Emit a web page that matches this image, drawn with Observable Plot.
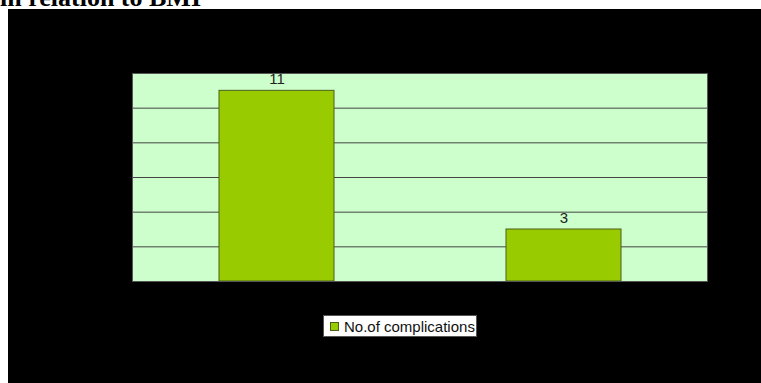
<!DOCTYPE html>
<html>
<head>
<meta charset="utf-8">
<script src="https://cdn.jsdelivr.net/npm/d3@7"></script>
<script src="https://cdn.jsdelivr.net/npm/@observablehq/plot@0.6"></script>
<style>
  html, body { margin: 0; padding: 0; background: #fff; width: 761px; height: 383px; overflow: hidden; }
  #title { position: absolute; left: 0; top: -15px; font: bold 26px "Liberation Serif", "Times New Roman", serif; line-height: 26px; white-space: nowrap; color: #000; }
  #chart { position: absolute; left: 8px; top: 9px; width: 753px; height: 374px; background: #000; }
  #chart svg { display: block; }
  #legend { position: absolute; left: 315px; top: 306px; height: 22px; box-sizing: border-box; background: #fff; border: 1px solid #555; padding: 0 1px 0 6px; display: flex; align-items: center; font: 15px "Liberation Sans", Arial, sans-serif; color: #111; white-space: nowrap; }
  #legend .sw { width: 9px; height: 9px; box-sizing: border-box; border: 1px solid #4d5e1a; margin-right: 5px; }
</style>
</head>
<body>
<div id="title"></div>
<div id="chart"></div>
<script>
const titleText = "in relation to BMI";
const categories = ["Normal BMI", "High BMI"];
const complications = [11, 3];
const gridTicks = [2, 4, 6, 8, 10];
const seriesName = "No.of complications";
const barColor = "#99CC00";

const data = categories.map((c, i) => ({category: c, value: complications[i]}));

document.getElementById("title").textContent = titleText;

const chart = Plot.plot({
  width: 753,
  height: 374,
  marginLeft: 124,
  marginRight: 54,
  marginTop: 64,
  marginBottom: 102,
  style: {background: "#000", fontFamily: "'Liberation Sans', Arial, sans-serif", fontSize: "15px", overflow: "visible"},
  x: {domain: categories, paddingInner: 0.6, paddingOuter: 0.3, axis: null},
  y: {domain: [0, 12], axis: null},
  marks: [
    Plot.frame({fill: "#CCFFCC", stroke: "none"}),
    Plot.ruleY(gridTicks, {stroke: "#444", strokeWidth: 1}),
    Plot.barY(data, {x: "category", y: "value", fill: barColor, stroke: "#4d5e1a", strokeWidth: 1}),
    Plot.text(data, {x: "category", y: "value", text: d => String(d.value), lineAnchor: "bottom", dy: -7, fill: "#222", fontSize: 15}),
    Plot.frame({stroke: "#555", strokeWidth: 1})
  ]
});
const host = document.getElementById("chart");
host.appendChild(chart);

const legend = document.createElement("div");
legend.id = "legend";
const sw = document.createElement("span");
sw.className = "sw";
sw.style.background = barColor;
legend.appendChild(sw);
legend.appendChild(document.createTextNode(seriesName));
host.appendChild(legend);
</script>
</body>
</html>
